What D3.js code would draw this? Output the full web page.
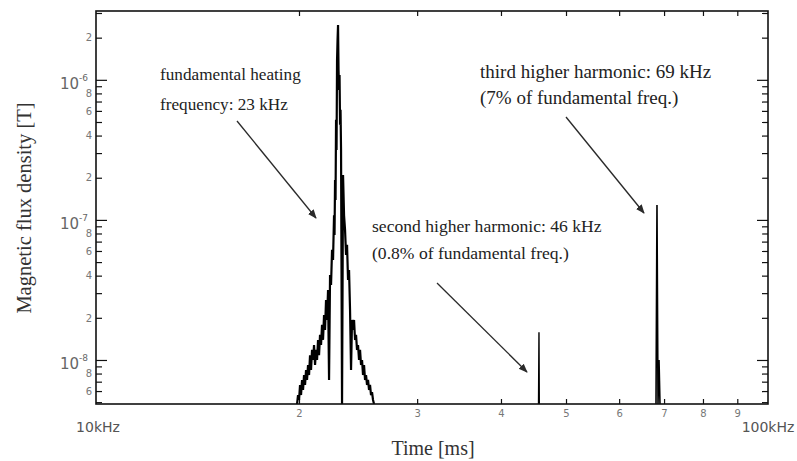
<!DOCTYPE html>
<html>
<head>
<meta charset="utf-8">
<script src="https://cdn.jsdelivr.net/npm/d3@7"></script>
<style>
	html, body { margin: 0; padding: 0; background: #fff; }
	svg { display: block; }
</style>
</head>
<body>
<svg id="chart"></svg>
<script>
// spectrum around the fundamental (kHz, T)
var fundFreq = [19.867, 19.935, 20.004, 20.072, 20.141, 20.211, 20.280, 20.350, 20.420, 20.490,
	20.560, 20.631, 20.702, 20.773, 20.844, 20.916, 20.988, 21.060, 21.133, 21.205,
	21.278, 21.351, 21.424, 21.498, 21.572, 21.646, 21.720, 21.795, 21.870, 21.945,
	22.021, 22.097, 22.173, 22.249, 22.325, 22.402, 22.479, 22.556, 22.595, 22.634,
	22.673, 22.712, 22.751, 22.790, 22.829, 22.868, 22.907, 22.947, 22.986, 23.026,
	23.065, 23.105, 23.184, 23.264, 23.344, 23.424, 23.505, 23.585, 23.666, 23.748,
	23.829, 23.911, 23.993, 24.076, 24.159, 24.242, 24.325, 24.408, 24.492, 24.577,
	24.661, 24.746, 24.831, 24.916, 25.002, 25.088, 25.174, 25.260, 25.347, 25.434,
	25.521, 25.609, 25.697, 25.785, 25.874];
var fundMag = [4.85e-9, 5.62e-9, 5.18e-9, 6.63e-9, 5.62e-9, 7.20e-9, 6.11e-9, 7.81e-9, 6.63e-9, 8.48e-9,
	7.20e-9, 9.21e-9, 7.81e-9, 1.08e-8, 8.48e-9, 1.18e-8, 1.0e-8, 1.28e-8, 9.21e-9, 1.18e-8,
	1.0e-8, 1.39e-8, 1.08e-8, 1.51e-8, 1.28e-8, 1.78e-8, 1.39e-8, 2.09e-8, 1.64e-8, 2.68e-8,
	1.93e-8, 3.16e-8, 7.20e-9, 4.05e-8, 3.43e-8, 6.11e-8, 5.18e-8, 1.08e-7, 7.81e-8, 1.93e-7,
	1.39e-7, 5.18e-7, 3.16e-7, 1.387e-6, 1.927e-6, 2.466e-6, 1.177e-6, 8.48e-7, 1.084e-6, 4.77e-7,
	6.11e-7, 3.16e-7, 4.85e-9, 2.09e-7, 1.08e-7, 8.48e-8, 5.62e-8, 6.63e-8, 3.73e-8, 4.39e-8,
	2.28e-8, 8.48e-9, 1.93e-8, 1.64e-8, 1.93e-8, 1.39e-8, 1.51e-8, 1.18e-8, 1.28e-8, 1.0e-8,
	1.18e-8, 9.21e-9, 1.0e-8, 7.81e-9, 9.21e-9, 7.20e-9, 7.81e-9, 6.63e-9, 7.20e-9, 6.11e-9,
	6.63e-9, 5.62e-9, 5.9e-9, 5.18e-9, 4.85e-9];

// second and third harmonics
var harm2Freq = [45.50, 45.57, 45.62];
var harm2Mag = [4.85e-9, 1.58e-8, 4.85e-9];
var harm3Freq = [68.09, 68.32, 68.56, 68.80, 69.03];
var harm3Mag = [4.85e-9, 1.28e-7, 4.85e-9, 1.0e-8, 4.85e-9];

// axes
var xTicks = [20, 30, 40, 50, 60, 70, 80, 90];
var xTickLabels = ['2', '3', '4', '5', '6', '7', '8', '9'];
var yMajor = [1e-8, 1e-7, 1e-6];
var yMajorExp = ['-8', '-7', '-6'];
var yMinor = [5e-9, 6e-9, 7e-9, 8e-9, 9e-9,
	2e-8, 3e-8, 4e-8, 5e-8, 6e-8, 7e-8, 8e-8, 9e-8,
	2e-7, 3e-7, 4e-7, 5e-7, 6e-7, 7e-7, 8e-7, 9e-7,
	2e-6, 3e-6];
var yMinorShown = ['2', '4', '6', '8'];

var notes = [
	{ lines: ['fundamental heating', 'frequency: 23 kHz'], x: 160, y: 80, gap: 30, size: 17.2 },
	{ lines: ['third higher harmonic: 69 kHz', '(7% of fundamental freq.)'], x: 480, y: 78, gap: 26, size: 19 },
	{ lines: ['second higher harmonic: 46 kHz', '(0.8% of fundamental freq.)'], x: 372, y: 232, gap: 27, size: 17.6 }
];
var arrows = [
	[237, 121, 316, 218],
	[566, 117, 644, 213],
	[437, 283, 527, 372]
];

(function() {
	var w = 797, h = 461,
		pl = 96, pr = 768, pt = 11, pb = 404;

	var svg = d3.select('#chart').attr('width', w).attr('height', h);

	var x = d3.scaleLog().domain([10, 100]).range([97, 768]);
	var y = d3.scaleLog().domain([4.85e-9, 3.1e-6]).range([pb, pt]);

	var defs = svg.append('defs');
	defs.append('clipPath').attr('id', 'clip')
		.append('rect').attr('x', pl).attr('y', pt).attr('width', pr - pl).attr('height', pb - pt);
	defs.append('marker')
		.attr('id', 'head').attr('viewBox', '0 0 10 10').attr('refX', 9).attr('refY', 5)
		.attr('markerWidth', 7).attr('markerHeight', 7).attr('orient', 'auto')
		.append('path').attr('d', 'M0,1 L10,5 L0,9 Z').attr('fill', '#2a2a2a');

	function styleAxis(g) {
		g.select('.domain').remove();
		g.selectAll('.tick line').attr('stroke', '#111').attr('stroke-width', 1.2);
		g.selectAll('.tick text').attr('fill', '#777').attr('font-family', 'DejaVu Sans, sans-serif').attr('font-size', 10);
	}

	// minor ticks
	svg.append('g').attr('transform', 'translate(' + pl + ',0)')
		.call(d3.axisLeft(y).tickValues(yMinor).tickSize(-6).tickPadding(4).tickFormat(function(d) {
			var m = String(Math.round(d / Math.pow(10, Math.floor(Math.log10(d) + 1e-9))));
			return yMinorShown.indexOf(m) >= 0 ? m : '';
		}))
		.call(styleAxis);
	svg.append('g').attr('transform', 'translate(' + pr + ',0)')
		.call(d3.axisRight(y).tickValues(yMinor).tickSize(-6).tickFormat(''))
		.call(styleAxis);

	// major ticks
	svg.append('g').attr('transform', 'translate(' + pl + ',0)')
		.call(d3.axisLeft(y).tickValues(yMajor).tickSize(-11).tickFormat(''))
		.call(styleAxis);
	svg.append('g').attr('transform', 'translate(' + pr + ',0)')
		.call(d3.axisRight(y).tickValues(yMajor).tickSize(-11).tickFormat(''))
		.call(styleAxis);
	svg.selectAll('.major').data(yMajor).enter().append('text')
		.attr('class', 'major')
		.attr('x', 88)
		.attr('y', function(d) { return y(d) + 9; })
		.attr('text-anchor', 'end')
		.attr('font-family', 'DejaVu Sans, sans-serif')
		.attr('font-size', 15)
		.attr('fill', '#666')
		.each(function(d, i) {
			var t = d3.select(this);
			t.append('tspan').text('10');
			t.append('tspan').attr('dy', -8).attr('font-size', 9).text(yMajorExp[i]);
		});

	svg.append('g').attr('transform', 'translate(0,' + pb + ')')
		.call(d3.axisBottom(x).tickValues(xTicks).tickSize(-5).tickPadding(6).tickFormat(function(d, i) { return xTickLabels[i]; }))
		.call(styleAxis);
	svg.append('g').attr('transform', 'translate(0,' + pt + ')')
		.call(d3.axisTop(x).tickValues(xTicks).tickSize(-5).tickFormat(''))
		.call(styleAxis);

	// spectrum
	var line = d3.line()
		.x(function(d) { return x(d[0]); })
		.y(function(d) { return y(d[1]); });

	var plot = svg.append('g').attr('clip-path', 'url(#clip)');
	[[fundFreq, fundMag, 2.2], [harm2Freq, harm2Mag, 1.4], [harm3Freq, harm3Mag, 1.6]].forEach(function(s) {
		plot.append('path')
			.datum(d3.zip(s[0], s[1]))
			.attr('d', line)
			.attr('fill', 'none')
			.attr('stroke', '#000')
			.attr('stroke-width', s[2]);
	});

	// frame
	svg.append('rect')
		.attr('x', pl).attr('y', pt).attr('width', pr - pl).attr('height', pb - pt)
		.attr('fill', 'none').attr('stroke', '#111').attr('stroke-width', 1.6);

	// annotations
	notes.forEach(function(n) {
		n.lines.forEach(function(s, i) {
			svg.append('text')
				.attr('x', n.x).attr('y', n.y + i * n.gap)
				.attr('font-family', 'Liberation Serif, serif')
				.attr('font-size', n.size)
				.attr('fill', '#222')
				.text(s);
		});
	});
	svg.selectAll('.arrow').data(arrows).enter().append('line')
		.attr('class', 'arrow')
		.attr('x1', function(d) { return d[0]; }).attr('y1', function(d) { return d[1]; })
		.attr('x2', function(d) { return d[2]; }).attr('y2', function(d) { return d[3]; })
		.attr('stroke', '#2a2a2a').attr('stroke-width', 1.3)
		.attr('marker-end', 'url(#head)');

	// axis titles
	svg.append('text')
		.attr('x', 98).attr('y', 432).attr('text-anchor', 'middle')
		.attr('font-family', 'DejaVu Sans, sans-serif').attr('font-size', 14).attr('fill', '#555')
		.text('10kHz');
	svg.append('text')
		.attr('x', 768).attr('y', 432).attr('text-anchor', 'middle')
		.attr('font-family', 'DejaVu Sans, sans-serif').attr('font-size', 14).attr('fill', '#555')
		.text('100kHz');
	svg.append('text')
		.attr('x', 433).attr('y', 455).attr('text-anchor', 'middle')
		.attr('font-family', 'Liberation Serif, serif').attr('font-size', 20).attr('fill', '#333')
		.text('Time [ms]');
	svg.append('text')
		.attr('transform', 'translate(31,208) rotate(-90)').attr('text-anchor', 'middle')
		.attr('font-family', 'Liberation Serif, serif').attr('font-size', 20.5).attr('fill', '#333')
		.text('Magnetic flux density [T]');
})();
</script>
</body>
</html>
